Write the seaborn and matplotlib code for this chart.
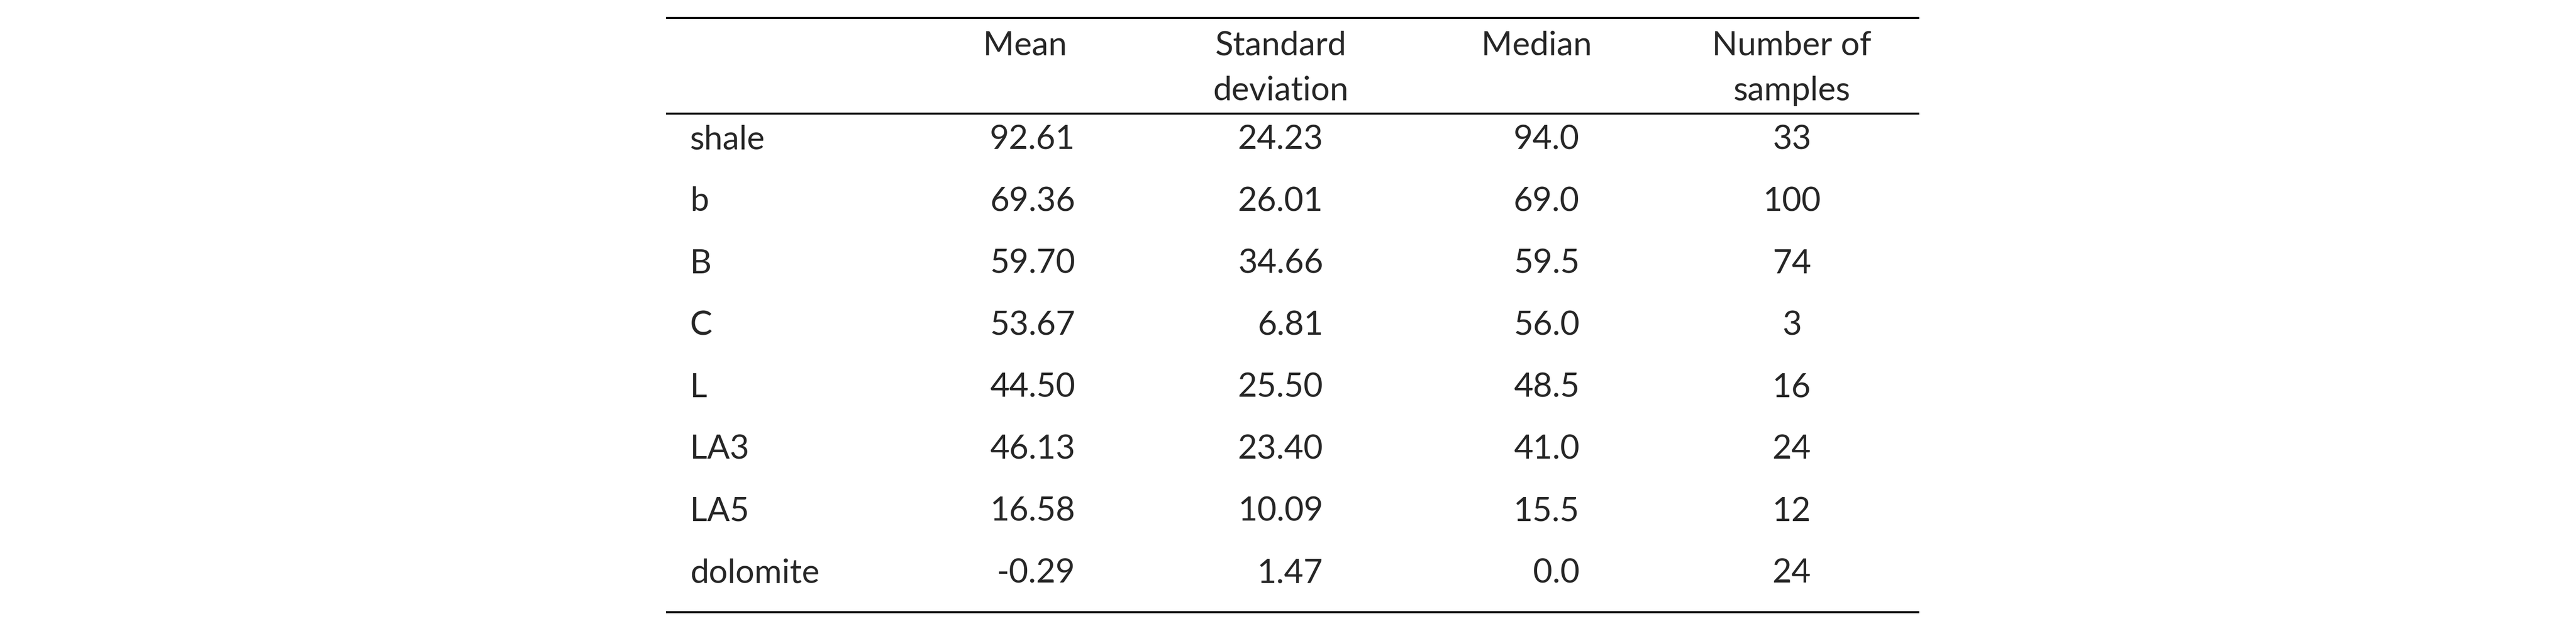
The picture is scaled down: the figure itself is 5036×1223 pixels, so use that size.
import matplotlib
matplotlib.use("Agg")
import matplotlib.pyplot as plt
import seaborn as sns

rocks = ["shale", "b", "B", "C", "L", "LA3", "LA5", "dolomite"]
mean_vals = [92.61, 69.36, 59.70, 53.67, 44.50, 46.13, 16.58, -0.29]
std_vals = [24.23, 26.01, 34.66, 6.81, 25.50, 23.40, 10.09, 1.47]
median_vals = [94.0, 69.0, 59.5, 56.0, 48.5, 41.0, 15.5, 0.0]
n_samples = [33, 100, 74, 3, 16, 24, 12, 24]
headers = ["Mean", "Standard\ndeviation", "Median", "Number of\nsamples"]

sns.set_theme(style="white")
plt.rcParams["font.family"] = ["Lato", "DejaVu Sans"]

W, H = 5036, 1223
fig = plt.figure(figsize=(W / 100, H / 100), dpi=100)
ax = fig.add_axes([0, 0, 1, 1])
ax.set_xlim(0, W)
ax.set_ylim(H, 0)
ax.axis("off")

fs = 47
left, right = 1302, 3752
label_x = 1349
# (x, ha) per column for body; header centers
col_body = [(2102, "right"), (2587, "right"), (3088, "right"), (3503, "center")]
col_head = [2004, 2504, 3004, 3503]

for x, h in zip(col_head, headers):
    ax.text(x, 60, h, ha="center", va="top", fontsize=fs, linespacing=1.6)

y0, dy = 273, 121
for i, rock in enumerate(rocks):
    y = y0 + i * dy
    vals = [f"{mean_vals[i]:.2f}", f"{std_vals[i]:.2f}",
            f"{median_vals[i]:.1f}", f"{n_samples[i]}"]
    ax.text(label_x, y, rock, ha="left", va="center", fontsize=fs)
    for (x, ha), v in zip(col_body, vals):
        ax.text(x, y, v, ha=ha, va="center", fontsize=fs)

for y in (35, 222, 1196):
    ax.plot([left, right], [y, y], color="black", lw=2.9, solid_capstyle="butt")

fig.savefig("out.png", dpi=100, facecolor="white")
